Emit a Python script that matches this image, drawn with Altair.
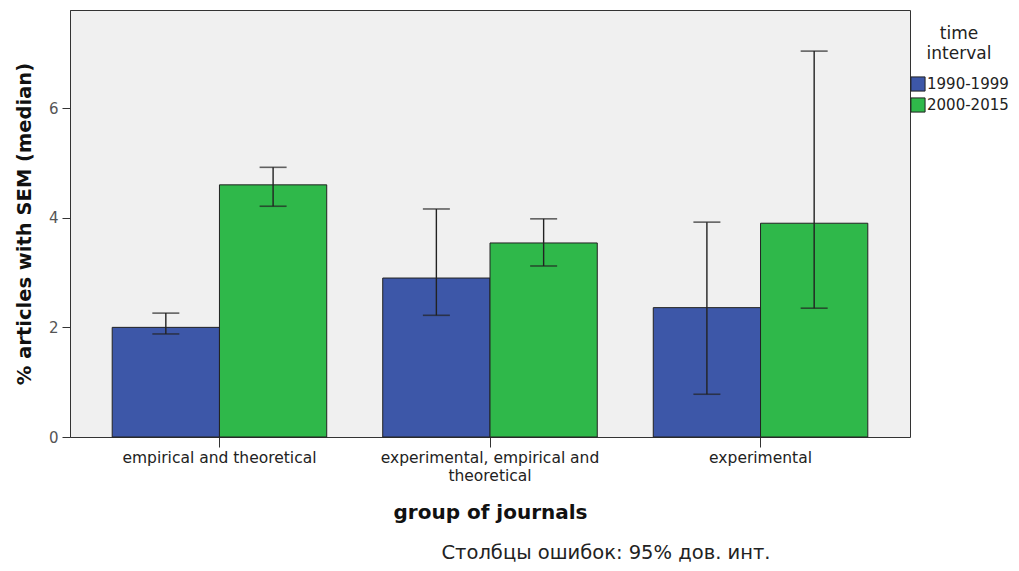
import altair as alt
import pandas as pd

groups = ["empirical and theoretical", "experimental, empirical and theoretical", "experimental"]
intervals = ["1990-1999", "2000-2015"]
median_1990 = [2.00, 2.90, 2.36]
median_2000 = [4.60, 3.54, 3.90]
lo_1990 = [1.88, 2.22, 0.78]
hi_1990 = [2.26, 4.16, 3.92]
lo_2000 = [4.21, 3.12, 2.35]
hi_2000 = [4.92, 3.98, 7.04]
colors = ["#3D57A8", "#2FB84A"]

rows = []
for i, g in enumerate(groups):
    rows.append({"group": g, "interval": intervals[0], "value": median_1990[i], "lo": lo_1990[i], "hi": hi_1990[i]})
    rows.append({"group": g, "interval": intervals[1], "value": median_2000[i], "lo": lo_2000[i], "hi": hi_2000[i]})
df = pd.DataFrame(rows)

FONT = "DejaVu Sans"
DARK = "#333333"

x_enc = alt.X(
    "group:N", sort=groups,
    scale=alt.Scale(paddingInner=0.207, paddingOuter=0.156),
    axis=alt.Axis(
        title="group of journals", labelAngle=0, labelFont=FONT, labelFontSize=15.5,
        labelColor="#222", labelPadding=3, tickSize=10, tickColor=DARK, domain=False,
        labelLimit=400,
        titleFont=FONT, titleFontSize=20, titleFontWeight="bold", titleColor="#111", titlePadding=19,
        labelExpr="datum.label == 'experimental, empirical and theoretical' ? ['experimental, empirical and', 'theoretical'] : datum.label",
        labelLineHeight=18,
    ),
)
xo = alt.XOffset("interval:N", sort=intervals)
y_scale = alt.Scale(domain=[0, 7.79], nice=False, zero=True)

bars = alt.Chart(df).mark_bar(stroke="#222", strokeWidth=1).encode(
    x=x_enc, xOffset=xo,
    y=alt.Y("value:Q", scale=y_scale, axis=alt.Axis(
        title="% articles with SEM (median)", values=[0, 2, 4, 6], grid=False,
        labelFont=FONT, labelFontSize=15, labelColor="#555", tickSize=8, tickColor=DARK,
        domainColor=DARK, labelPadding=4,
        titleFont=FONT, titleFontSize=19.5, titleFontWeight="bold", titleColor="#111", titlePadding=14)),
    color=alt.Color("interval:N", sort=intervals, scale=alt.Scale(domain=intervals, range=colors),
                    legend=alt.Legend(title=["time", "interval"], titleAlign="center", titleAnchor="middle",
                                      titleFont=FONT, titleFontSize=17, titleFontWeight="normal", titleColor="#222",
                                      titleLineHeight=20, titlePadding=13,
                                      labelFont=FONT, labelFontSize=15, labelColor="#222",
                                      symbolType="square", symbolSize=200, symbolStrokeColor="#222",
                                      symbolStrokeWidth=1, symbolOpacity=1, rowPadding=1, labelOffset=1,
                                      labelLimit=200,
                                      orient="none", legendX=840, legendY=16, padding=0)),
)

rules = alt.Chart(df).mark_rule(color="#222", strokeWidth=1.4).encode(
    x=alt.X("group:N", sort=groups), xOffset=xo,
    y=alt.Y("lo:Q", scale=y_scale), y2="hi:Q",
)
cap_lo = alt.Chart(df).mark_tick(color="#222", size=27, thickness=1.6).encode(
    x=alt.X("group:N", sort=groups), xOffset=xo, y=alt.Y("lo:Q", scale=y_scale),
)
cap_hi = alt.Chart(df).mark_tick(color="#222", size=27, thickness=1.6).encode(
    x=alt.X("group:N", sort=groups), xOffset=xo, y=alt.Y("hi:Q", scale=y_scale),
)

chart = alt.layer(bars, rules, cap_lo, cap_hi).properties(
    width=840, height=427,
    background="white",
    autosize=alt.AutoSizeParams(type="none"),
    padding={"left": 62, "top": 2, "right": 101, "bottom": 126},
    title=alt.TitleParams(text="Столбцы ошибок: 95% дов. инт.", orient="bottom", anchor="middle",
                          dx=116, offset=21, font=FONT, fontSize=19.5, fontWeight="normal", color="#222"),
).configure_view(fill="#F0F0F0", stroke=DARK, strokeWidth=1)

chart.save("out.html", embed_options={"renderer": "svg", "actions": False})
